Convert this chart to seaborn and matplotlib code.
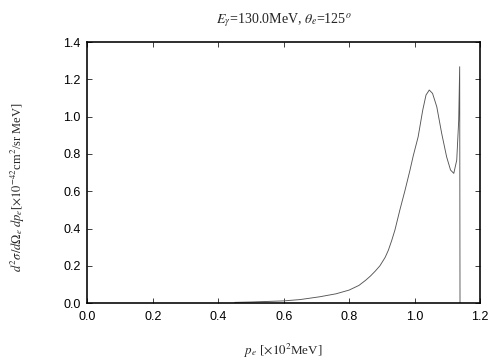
import numpy as np
import pandas as pd
import matplotlib
matplotlib.use("Agg")
import matplotlib.pyplot as plt
import seaborn as sns

# electron momentum [x10^2 MeV] and cross section [x10^-42 cm^2/sr MeV]
p_e = [0.45, 0.50, 0.55, 0.60, 0.65, 0.71, 0.76, 0.80, 0.83, 0.85, 0.865,
       0.88, 0.894, 0.91, 0.92, 0.93, 0.94, 0.955, 0.971, 0.986, 0.996,
       1.011, 1.025, 1.035, 1.045, 1.055, 1.068, 1.083, 1.098, 1.110, 1.120,
       1.129, 1.135, 1.138, 1.139]
sigma = [0.004, 0.006, 0.009, 0.012, 0.019, 0.034, 0.050, 0.070, 0.095,
         0.122, 0.145, 0.172, 0.200, 0.245, 0.284, 0.335, 0.392, 0.499, 0.606,
         0.713, 0.790, 0.892, 1.035, 1.116, 1.143, 1.125, 1.053, 0.910, 0.785,
         0.714, 0.696, 0.767, 0.98, 1.268, 0.0]

xticks = [0.0, 0.2, 0.4, 0.6, 0.8, 1.0, 1.2]
yticks = [0.0, 0.2, 0.4, 0.6, 0.8, 1.0, 1.2, 1.4]

sns.set_theme(style="ticks")
plt.rcParams["mathtext.fontset"] = "stix"

df = pd.DataFrame({"p": p_e, "s": sigma})

fig = plt.figure(figsize=(7, 5), dpi=72)
ax = fig.add_axes([0.1736, 0.158, 0.7787, 0.725])
sns.lineplot(data=df, x="p", y="s", ax=ax, sort=False, estimator=None,
             color="#555555", lw=0.9)

ax.set_xlim(0, 1.2)
ax.set_ylim(0, 1.4)
ax.set_xticks(xticks)
ax.set_yticks(yticks)
ax.set_xticklabels([f"{t:.1f}" for t in xticks], family="Liberation Sans", fontsize=12.5)
ax.set_yticklabels([f"{t:.1f}" for t in yticks], family="Liberation Sans", fontsize=12.5)
ax.tick_params(direction="in", top=True, right=True, length=5, width=1,
               color="#444444", labelcolor="black")
ax.tick_params(axis="x", pad=8)
ax.tick_params(axis="y", pad=7)
for s in ax.spines.values():
    s.set_linewidth(1.6)
    s.set_color("black")

ax.set_xlabel(r"$p_e$ [$\times10^2$MeV]", family="Liberation Serif", fontsize=13)
ax.xaxis.set_label_coords(0.5, -0.15)
ax.set_ylabel(r"$d^2\sigma/d\Omega_e\; dp_e$[$\times10^{-42}$cm$^2$/sr MeV]",
              family="Liberation Serif", fontsize=12.5)
ax.yaxis.set_label_coords(-0.155, 0.444)
ax.set_title(r"$E_\gamma$=130.0MeV, $\theta_e$=125$^o$",
             family="Liberation Serif", fontsize=14, pad=19)

fig.savefig("out.png", dpi=72)
